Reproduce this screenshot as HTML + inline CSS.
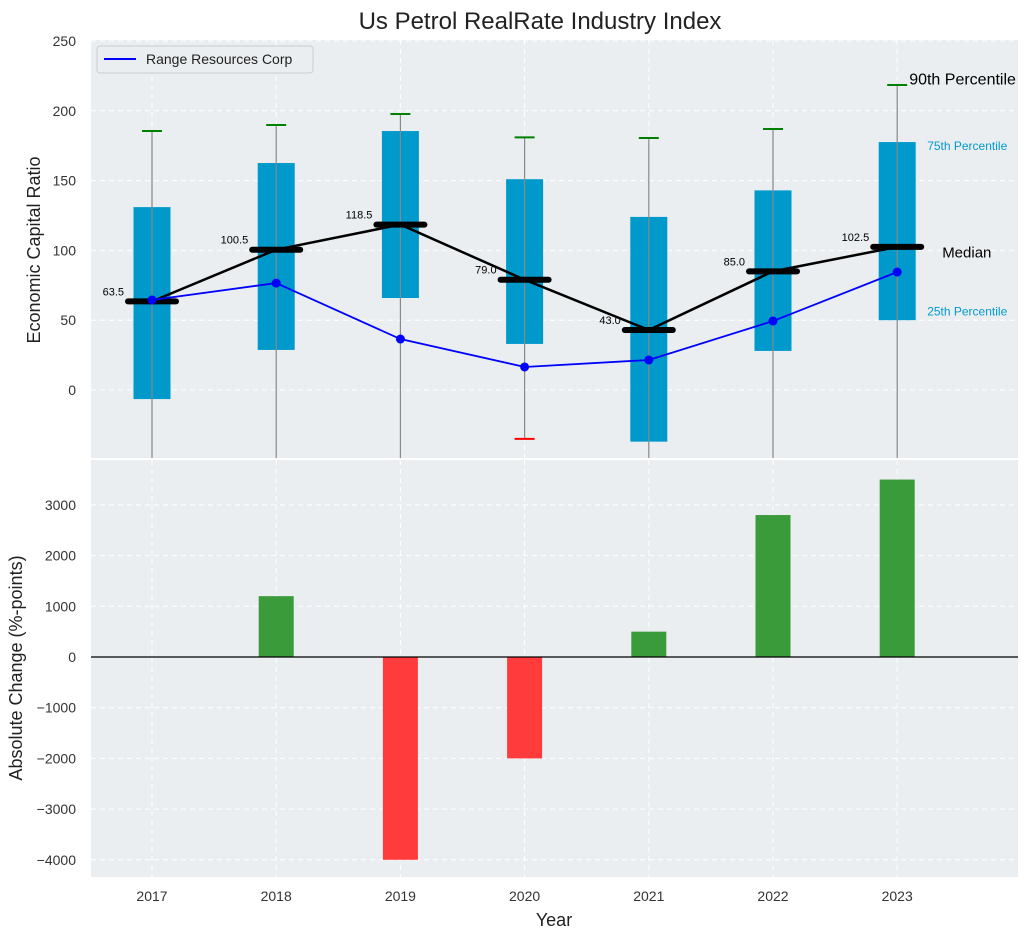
<!DOCTYPE html>
<html><head><meta charset="utf-8"><style>
body{margin:0;background:#fff;font-family:"Liberation Sans",sans-serif;}
svg text{font-family:"Liberation Sans",sans-serif;}
</style></head><body>
<svg id="c" width="1030" height="940" xmlns="http://www.w3.org/2000/svg">
<text x="540" y="29" font-size="24" text-anchor="middle" fill="#222">Us Petrol RealRate Industry Index</text>
<rect x="91" y="40" width="927" height="418" fill="#eaeef0"/>
<rect x="91" y="460" width="927" height="417" fill="#eaeef0"/>
<g id="topg"></g><g id="botg"></g>
<text x="40" y="250" font-size="18" fill="#222" text-anchor="middle" transform="rotate(-90 40 250)">Economic Capital Ratio</text>
<text x="22" y="668" font-size="18" fill="#222" text-anchor="middle" transform="rotate(-90 22 668)">Absolute Change (%-points)</text>
<text x="554" y="926" font-size="18" fill="#222" text-anchor="middle">Year</text>
<g>
<rect x="97" y="46" width="216" height="27" rx="3" fill="#eaeef0" stroke="#ccc"/>
<line x1="104" y1="59" x2="136" y2="59" stroke="#0000ff" stroke-width="2"/>
<text x="146" y="64" font-size="14" fill="#222">Range Resources Corp</text>
</g>
</svg>
<script>
const years=['2017','2018','2019','2020','2021','2022','2023'];
const q1=[-6.5,28.7,65.9,33,-37,28,50];
const q3=[131,162.6,185.5,151,124,143,177.6];
const whiskTop=[185.5,189.8,197.7,181,180.5,187,218.5];
const whiskBot=[-60,-60,-60,-35,-60,-60,-60];
const medians=[63.5,100.5,118.5,79,43,85,102.5];
const company=[64.5,76.6,36.5,16.5,21.5,49.4,84.5];
const changes=[0,1200,-4000,-2000,500,2800,3500];
const topTicks=[0,50,100,150,200,250];
const botTicks=[-4000,-3000,-2000,-1000,0,1000,2000,3000];
const NS='http://www.w3.org/2000/svg';
const X=i=>152+i*124.2;
const Y=v=>390-v*1.396;
const Y2=v=>657-v*0.0507;
const fmt=t=>String(t).replace('-','\u2212');
function mk(p,t,a){const e=document.createElementNS(NS,t);for(const k in a)e.setAttribute(k,a[k]);p.appendChild(e);return e;}
const topG=document.getElementById('topg'),botG=document.getElementById('botg');
topTicks.forEach(t=>{const g=mk(topG,'line',{x1:91,x2:1018,y1:Y(t),y2:Y(t),stroke:'#fff','stroke-dasharray':'5,4'});

const tx=mk(topG,'text',{x:76,y:Y(t)+5,'font-size':14,fill:'#333','text-anchor':'end'});tx.textContent=fmt(t);
});
botTicks.forEach(t=>{const g=mk(botG,'line',{x1:91,x2:1018,y1:Y2(t),y2:Y2(t),stroke:'#fff','stroke-dasharray':'5,4'});

const tx=mk(botG,'text',{x:76,y:Y2(t)+5,'font-size':14,fill:'#333','text-anchor':'end'});tx.textContent=fmt(t);
});
years.forEach((y,i)=>{[topG,botG].forEach((p,k)=>{const g=mk(p,'line',{x1:X(i),x2:X(i),y1:k?460:40,y2:k?877:458,stroke:'#fff','stroke-dasharray':'5,4'});
});
const tx=mk(botG,'text',{x:X(i),y:901,'font-size':14,fill:'#333','text-anchor':'middle'});tx.textContent=y;
});
const clipB=v=>Math.min(Y(v),458);
years.forEach((y,i)=>{
const b=mk(topG,'rect',{x:X(i)-18.5,y:Y(q3[i]),width:37,height:clipB(q1[i])-Y(q3[i]),fill:'#0099cc'});

const w=mk(topG,'line',{x1:X(i),x2:X(i),y1:Y(whiskTop[i]),y2:clipB(whiskBot[i]),stroke:'#888','stroke-width':1.2});

const c=mk(topG,'line',{x1:X(i)-10,x2:X(i)+10,y1:Y(whiskTop[i]),y2:Y(whiskTop[i]),stroke:'green','stroke-width':2});

if(Y(whiskBot[i])<458){const c2=mk(topG,'line',{x1:X(i)-10,x2:X(i)+10,y1:Y(whiskBot[i]),y2:Y(whiskBot[i]),stroke:'red','stroke-width':2});
}
});
const ml=mk(topG,'polyline',{points:medians.map((v,i)=>X(i)+','+Y(v)).join(' '),fill:'none',stroke:'#000','stroke-width':2.5});

medians.forEach((v,i)=>{const m=mk(topG,'line',{x1:X(i)-24,x2:X(i)+24,y1:Y(v),y2:Y(v),stroke:'#000','stroke-width':6,'stroke-linecap':'round'});

const t=mk(topG,'text',{x:X(i)-28,y:Y(v)-6,'font-size':11,fill:'#000','text-anchor':'end'});t.textContent=v.toFixed(1);
});
const cl=mk(topG,'polyline',{points:company.map((v,i)=>X(i)+','+Y(v)).join(' '),fill:'none',stroke:'#0000ff','stroke-width':1.8});

company.forEach((v,i)=>{const p=mk(topG,'circle',{cx:X(i),cy:Y(v),r:4.5,fill:'#0000ff'});
});
const L=6;
[['90th Percentile',whiskTop[L]+4,16,'#000',12],['75th Percentile',q3[L]-2,12,'#0099cc',30],['Median',medians[L]-4,15,'#000',45],['25th Percentile',q1[L]+7,12,'#0099cc',30]].forEach(a=>{
const t=mk(topG,'text',{x:X(L)+a[4],y:Y(a[1])+5,'font-size':a[2],fill:a[3]});t.textContent=a[0];
});
changes.forEach((v,i)=>{const y0=Y2(Math.max(v,0)),h=Math.abs(Y2(v)-Y2(0));
const r=mk(botG,'rect',{x:X(i)-17.5,y:y0,width:35,height:h,fill:v>=0?'#3a9b3a':'#ff3b3b'});
});
const z=mk(botG,'line',{x1:91,x2:1018,y1:Y2(0),y2:Y2(0),stroke:'#000','stroke-width':1.2});

</script>
</body></html>
